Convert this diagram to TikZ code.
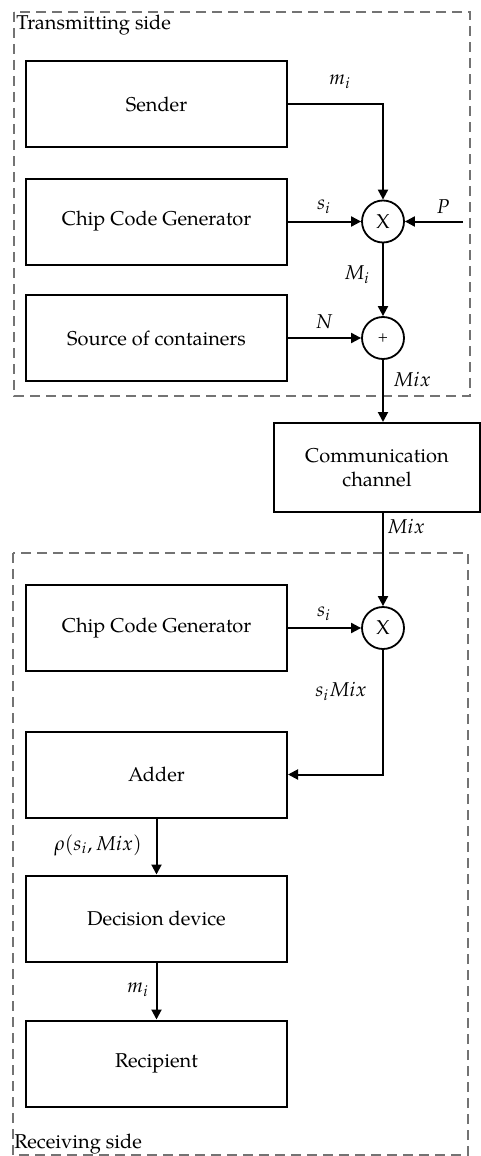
\documentclass[tikz,border=0pt]{standalone}
\usepackage{mathpazo}
\usepackage{fontspec}
\setmainfont{TeX Gyre Pagella}
\usetikzlibrary{arrows.meta}

\begin{document}
\begin{tikzpicture}[x=0.5pt,y=-0.5pt,
    blockbox/.style={draw,line width=1pt,minimum width=130.5pt,minimum height=43pt,
      inner sep=0pt,align=center},
    mixer/.style={draw,circle,line width=0.9pt,minimum size=21pt,inner sep=0pt},
    sidebox/.style={draw=black!55,line width=0.7pt,dash pattern=on 5pt off 3pt},
    sig/.style={line width=1pt,-{Triangle[length=5pt,width=5pt]}},
    sidetxt/.style={anchor=west,inner sep=1pt}]

  \useasboundingbox (0,0) rectangle (481,1156);

  % ===== Parameters =====
  \def\colx{156.5}  % centre of the block column
  \def\mixx{383}    % centre of the mixers

  % ===== Sides (dashed) =====
  \draw[sidebox] (14,12) rectangle (470,396);
  \draw[sidebox] (13,553) rectangle (468,1155);
  \node[sidetxt] (txside) at (14,25) {Transmitting side};
  \node[sidetxt] (rxside) at (12,1144) {Receiving side};

  % ===== Transmitting side =====
  \node[blockbox] (sender) at (\colx,104)   {Sender};
  \node[blockbox] (chiptx) at (\colx,221.5) {Chip Code Generator};
  \node[blockbox] (source) at (\colx,338)   {Source of containers};
  \node[mixer] (mult) at (\mixx,221.5) {X};
  \node[mixer] (sum)  at (\mixx,338)   {\scriptsize +};
  \coordinate (pin) at (463,221.5);

  % ===== Channel =====
  \node[blockbox,minimum width=103pt,minimum height=44.5pt] (channel)
    at (377,467.5) {Communication\\channel};

  % ===== Receiving side =====
  \node[blockbox] (chiprx)    at (\colx,628)    {Chip Code Generator};
  \node[mixer]    (demult)    at (\mixx,628)    {X};
  \node[blockbox] (adder)     at (\colx,774.5)  {Adder};
  \node[blockbox] (decision)  at (\colx,918.5)  {Decision device};
  \node[blockbox] (recipient) at (\colx,1063.5) {Recipient};

  % ===== Signals =====
  \draw[sig] (sender.east) -| (mult.north);
  \draw[sig] (chiptx.east) -- (mult.west);
  \draw[sig] (pin) -- (mult.east);
  \draw[sig] (mult.south) -- (sum.north);
  \draw[sig] (source.east) -- (sum.west);
  \draw[sig] (sum.south) -- (sum.south |- channel.north);
  \draw[sig] (channel.south -| demult) -- (demult.north);
  \draw[sig] (chiprx.east) -- (demult.west);
  \draw[sig] (demult.south) |- (adder.east);
  \draw[sig] (adder.south) -- (decision.north);
  \draw[sig] (decision.south) -- (recipient.north);

  % ===== Signal names =====
  \node (lmtx)  at (340,82)  {$m_i$};
  \node (lstx)  at (324,207) {$s_i$};
  \node (lp)    at (443,207) {$P$};
  \node (lMi)   at (357,275) {$M_i$};
  \node (ln)    at (324,322) {$N$};
  \node (lmix)  at (412,380) {$Mix$};
  \node (lmixb) at (406,527) {$Mix$};
  \node (lsrx)  at (324,614) {$s_i$};
  \node (lsmix) at (341,691) {$s_i Mix$};
  \node (lrho)  at (98,845)  {$\rho(s_i, Mix)$};
  \node (lmrx)  at (138,990) {$m_i$};

\end{tikzpicture}
\end{document}
